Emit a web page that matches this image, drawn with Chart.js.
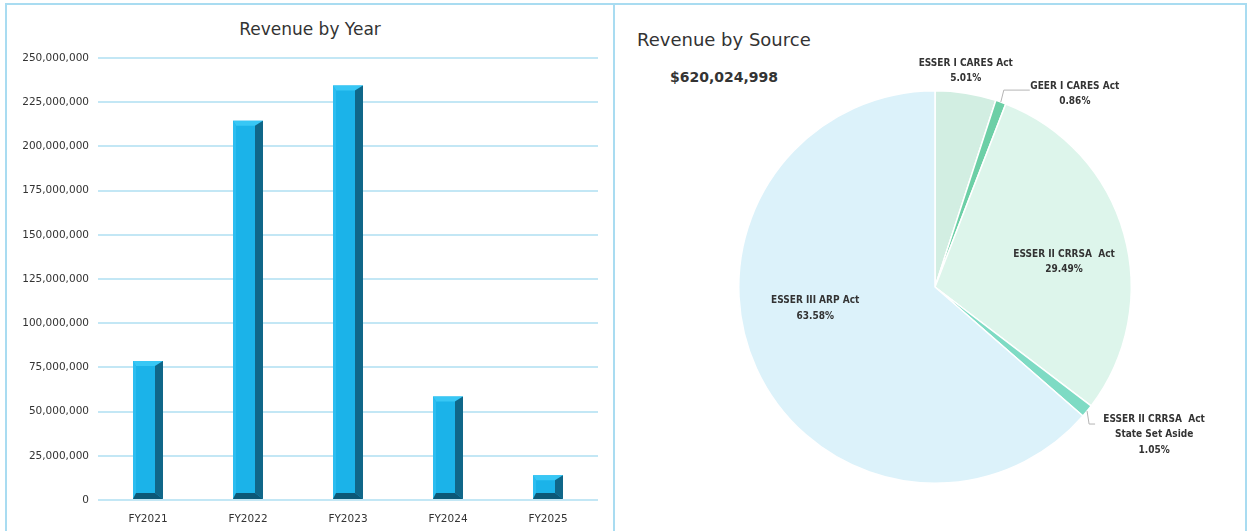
<!DOCTYPE html>
<html>
<head>
<meta charset="utf-8">
<script src="https://cdn.jsdelivr.net/npm/chart.js@4.4.1/dist/chart.umd.min.js"></script>
<style>
  html, body { margin: 0; padding: 0; background: #ffffff; width: 1248px; height: 531px; overflow: hidden; font-family: "DejaVu Sans", sans-serif; }
  .panel { position: absolute; border: 2px solid #a9dcf1; box-sizing: border-box; }
  #leftPanel { left: 5px; top: 3px; width: 610px; height: 540px; }
  #rightPanel { left: 613px; top: 3px; width: 634px; height: 540px; }
  canvas { position: absolute; }
  .title { position: absolute; color: #333333; white-space: nowrap; }
</style>
</head>
<body>
<div class="panel" id="leftPanel"></div>
<div class="panel" id="rightPanel"></div>
<div class="title" style="left:0; width:620px; text-align:center; top:19px; font-size:17px;">Revenue by Year</div>
<div class="title" style="left:637px; top:29px; font-size:18px;">Revenue by Source</div>
<div class="title" style="left:670px; top:69px; font-size:14px; font-weight:bold;">$620,024,998</div>
<canvas id="barChart" width="612" height="531" style="left:0; top:0;"></canvas>
<canvas id="pieChart" width="627" height="523" style="left:617px; top:4px;"></canvas>

<script>
// ---- Revenue by year ----
const fiscalYears = ['FY2021', 'FY2022', 'FY2023', 'FY2024', 'FY2025'];
const yearRevenue = [78600000, 214500000, 234500000, 58500000, 14000000];
const yearTicks = [0, 25000000, 50000000, 75000000, 100000000, 125000000, 150000000, 175000000, 200000000, 225000000, 250000000];

// ---- Revenue by source (percent of total) ----
const sourceNames = [
  'ESSER I CARES Act',
  'GEER I CARES Act',
  'ESSER II CRRSA  Act',
  'ESSER II CRRSA  Act\nState Set Aside',
  'ESSER III ARP Act'
];
const sourceShares = [5.01, 0.86, 29.49, 1.05, 63.58];
const sourceColors = ['#d2eee2', '#6ccfa6', '#ddf5eb', '#7edbc4', '#dcf2fa'];
const totalRevenue = 620024998;

const tickFont = { family: '"DejaVu Sans", sans-serif', size: 10.5 };
const labelFont = 'bold 10px "DejaVu Sans Condensed", "DejaVu Sans", sans-serif';
const textColor = '#333333';

// Bevelled look for each bar, drawn over the bar rectangle the scale produced
const bevelBars = {
  id: 'bevelBars',
  afterDatasetsDraw(chart) {
    const ctx = chart.ctx;
    chart.getDatasetMeta(0).data.forEach(bar => {
      const p = bar.getProps(['x', 'y', 'base', 'width'], true);
      const l = p.x - p.width / 2, r = p.x + p.width / 2, t = p.y, b = p.base;
      const h = b - t;
      const il = l + 3, ir = r - 8;
      const it = t + Math.min(5, h * 0.25), ib = b - Math.min(6, h * 0.25);
      const poly = (pts, color) => {
        ctx.beginPath();
        ctx.moveTo(pts[0][0], pts[0][1]);
        for (let k = 1; k < pts.length; k++) ctx.lineTo(pts[k][0], pts[k][1]);
        ctx.closePath();
        ctx.fillStyle = color;
        ctx.fill();
      };
      ctx.save();
      poly([[l, t], [r, t], [ir, it], [il, it]], '#38c7f5');
      poly([[l, t], [il, it], [il, ib], [l, b]], '#2cbdf0');
      poly([[r, t], [r, b], [ir, ib], [ir, it]], '#106789');
      poly([[l, b], [il, ib], [ir, ib], [r, b]], '#0c5877');
      ctx.restore();
    });
  }
};

new Chart(document.getElementById('barChart'), {
  type: 'bar',
  data: {
    labels: fiscalYears,
    datasets: [{
      data: yearRevenue,
      backgroundColor: '#1bb3e9',
      borderWidth: 0,
      barPercentage: 0.3,
      categoryPercentage: 1.0
    }]
  },
  options: {
    responsive: false,
    animation: false,
    layout: { padding: { left: 0, right: 14, top: 58, bottom: 0 } },
    plugins: { legend: { display: false }, tooltip: { enabled: false } },
    scales: {
      x: {
        grid: { display: false, drawTicks: false },
        border: { display: false },
        ticks: { color: textColor, font: tickFont, padding: 13 },
        afterFit(scale) { scale.height = 31; }
      },
      y: {
        min: 0,
        max: 250000000,
        afterBuildTicks(scale) { scale.ticks = yearTicks.map(v => ({ value: v })); },
        ticks: {
          color: textColor,
          font: tickFont,
          padding: 9,
          callback: v => Number(v).toLocaleString('en-US')
        },
        grid: { color: '#c3e7f5', lineWidth: 2, drawTicks: false },
        border: { display: false },
        afterFit(scale) { scale.width = 98; }
      }
    }
  },
  plugins: [bevelBars]
});

// Label placement for each slice: inside the wedge, above its edge, or beside it with a leader line
const labelLayout = [
  { mode: 'above', dy: -30 },
  { mode: 'leader', elbow: [3, -12], end: [29, -12], text: [74, -16] },
  { mode: 'inside', turn: 4.8, radius: 0.67 },
  { mode: 'leader', elbow: [2, 13], end: [8, 13], text: [67, 8] },
  { mode: 'inside', turn: 14.4, radius: 0.62 }
];

const sliceLabels = {
  id: 'sliceLabels',
  afterDatasetsDraw(chart) {
    const ctx = chart.ctx;
    const lineH = 15.5;
    ctx.save();
    ctx.font = labelFont;
    ctx.fillStyle = textColor;
    ctx.textAlign = 'center';
    ctx.textBaseline = 'middle';
    chart.getDatasetMeta(0).data.forEach((arc, i) => {
      const a = arc.getProps(['x', 'y', 'startAngle', 'endAngle', 'outerRadius'], true);
      const mid = (a.startAngle + a.endAngle) / 2;
      const ex = a.x + a.outerRadius * Math.cos(mid);
      const ey = a.y + a.outerRadius * Math.sin(mid);
      const lines = sourceNames[i].split('\n').concat(sourceShares[i].toFixed(2) + '%');
      const L = labelLayout[i];
      let cx, cy;
      if (L.mode === 'inside') {
        const ang = mid + L.turn * Math.PI / 180;
        const rr = a.outerRadius * L.radius;
        cx = a.x + rr * Math.cos(ang);
        cy = a.y + rr * Math.sin(ang) - (lines.length - 1) * lineH / 2;
      } else if (L.mode === 'above') {
        cx = ex;
        cy = ey + L.dy;
      } else {
        ctx.save();
        ctx.strokeStyle = '#b5b5b5';
        ctx.lineWidth = 1;
        ctx.beginPath();
        ctx.moveTo(ex, ey);
        ctx.lineTo(ex + L.elbow[0], ey + L.elbow[1]);
        ctx.lineTo(ex + L.end[0], ey + L.end[1]);
        ctx.stroke();
        ctx.restore();
        cx = ex + L.text[0];
        cy = ey + L.text[1];
      }
      lines.forEach((s, k) => ctx.fillText(s, cx, cy + k * lineH));
    });
    ctx.restore();
  }
};

new Chart(document.getElementById('pieChart'), {
  type: 'pie',
  data: {
    labels: sourceNames,
    datasets: [{
      data: sourceShares,
      backgroundColor: sourceColors,
      borderColor: '#ffffff',
      borderWidth: 1.5
    }]
  },
  options: {
    responsive: false,
    animation: false,
    layout: { padding: { left: 121, right: 112, top: 86, bottom: 43 } },
    plugins: { legend: { display: false }, tooltip: { enabled: false } }
  },
  plugins: [sliceLabels]
});
</script>
</body>
</html>
